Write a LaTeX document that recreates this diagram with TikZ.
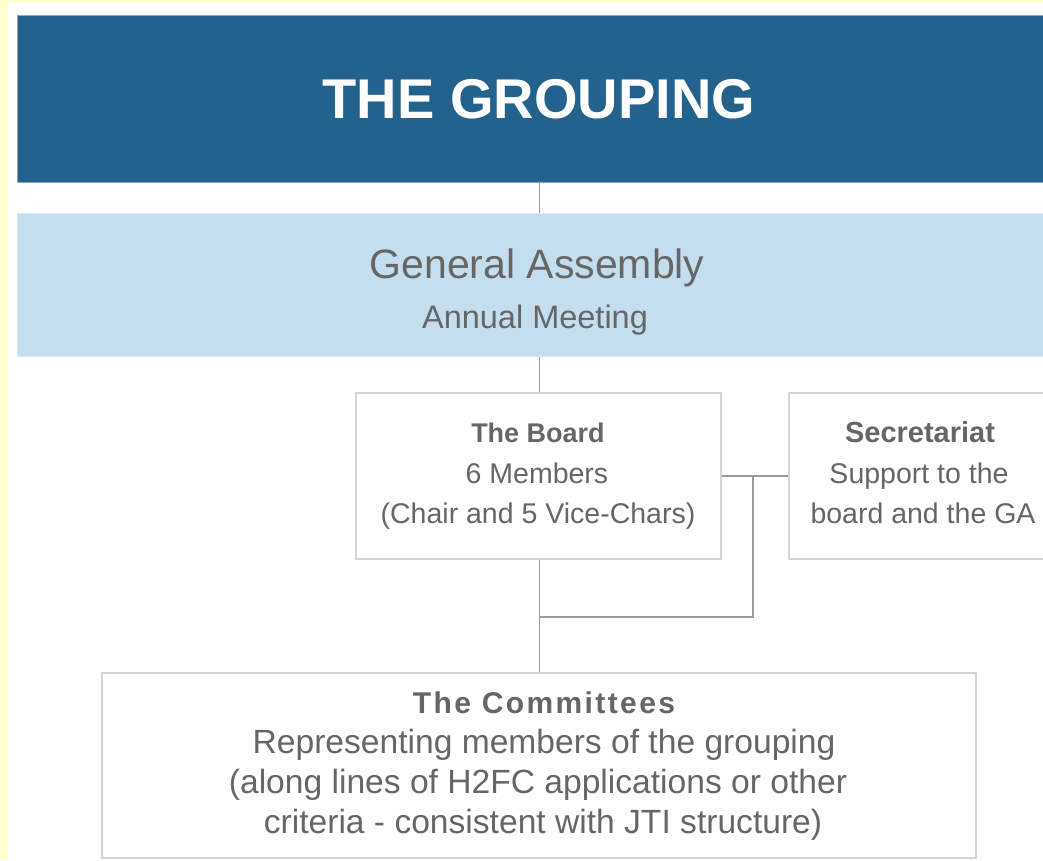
\documentclass[tikz,border=0pt]{standalone}
\usepackage{fontspec}
\setmainfont{Liberation Sans}
\definecolor{bgyellow}{HTML}{FFFFCC}
\definecolor{darkblue}{HTML}{22628D}
\definecolor{darkblueedge}{HTML}{8DA9C2}
\definecolor{lightblue}{HTML}{C4DEF0}
\definecolor{lightblueedge}{HTML}{D9E9F5}
\definecolor{boxedge}{HTML}{D4D4D4}
\definecolor{connline}{HTML}{9A9A9A}
\definecolor{txtgray}{HTML}{666666}
\begin{document}
\begin{tikzpicture}[x=1pt,y=-1pt,
  darkbar/.style={draw=darkblueedge, line width=1pt, fill=darkblue, rectangle, inner sep=0pt, anchor=north west},
  lightbar/.style={draw=lightblueedge, line width=1pt, fill=lightblue, rectangle, inner sep=0pt, anchor=north west},
  orgbox/.style={draw=boxedge, line width=2pt, fill=white, rectangle, inner sep=0pt, anchor=north west},
  conn/.style={draw=connline, line width=1.6pt},
  txt/.style={anchor=base, inner sep=0pt, text=txtgray},
]
\useasboundingbox (0,0) rectangle (1043,860);
\clip (0,0) rectangle (1043,860);
\fill[bgyellow] (0,0) rectangle (1043,860);
\fill[white] (8,3) rectangle (1043,860);

% boxes
\node[darkbar, minimum width=1044pt, minimum height=167pt] (grouping) at (17,15) {};
\node[lightbar, minimum width=1044pt, minimum height=143pt] (assembly) at (17,213) {};
\node[orgbox, minimum width=365pt, minimum height=166pt] (board) at (355,392) {};
\node[orgbox, minimum width=272pt, minimum height=166pt] (secretariat) at (788,392) {};
\node[orgbox, minimum width=874pt, minimum height=185pt] (committees) at (101,672) {};

% connectors
\coordinate (j) at (753,475);
\coordinate (k) at (539,617);
\draw[conn] (grouping.south) -- (assembly.north);
\draw[conn] (assembly.south) -- (assembly.south |- board.north);
\draw[conn] (assembly.south |- board.south) -- (assembly.south |- committees.north);
\draw[conn] (board.east) -- (secretariat.west);
\draw[conn] (j) |- (k);

% texts
\node[txt, text=white, font=\fontsize{56}{60}\selectfont\bfseries] (tgrouping) at (539,118) {THE GROUPING};
\node[txt, font=\fontsize{41}{44}\selectfont] (tga) at (537,278) {General Assembly};
\node[txt, font=\fontsize{32.5}{36}\selectfont] (tannual) at (535,328) {Annual Meeting};

\node[txt, font=\fontsize{27}{30}\selectfont\bfseries] (tboard1) at (538,442) {The Board};
\node[txt, font=\fontsize{28.5}{30}\selectfont] (tboard2) at (537,483) {6 Members};
\node[txt, font=\fontsize{28.5}{30}\selectfont] (tboard3) at (538,523) {(Chair and 5 Vice-Chars)};

\node[txt, font=\fontsize{29}{30}\selectfont\bfseries] (tsec1) at (920,442) {Secretariat};
\node[txt, font=\fontsize{28.5}{30}\selectfont] (tsec2) at (919,483) {Support to the};
\node[txt, font=\fontsize{28.5}{30}\selectfont] (tsec3) at (923,523) {board and the GA};

\node[txt, font=\fontsize{30}{32}\selectfont\bfseries\addfontfeature{LetterSpace=8}] (tcom1) at (544,713) {The Committees};
\node[txt, font=\fontsize{33.6}{36}\selectfont] (tcom2) at (544,753) {Representing members of the grouping};
\node[txt, font=\fontsize{33.6}{36}\selectfont] (tcom3) at (538,793) {(along lines of H2FC applications or other};
\node[txt, font=\fontsize{33.6}{36}\selectfont] (tcom4) at (543,833) {criteria - consistent with JTI structure)};
\end{tikzpicture}
\end{document}
